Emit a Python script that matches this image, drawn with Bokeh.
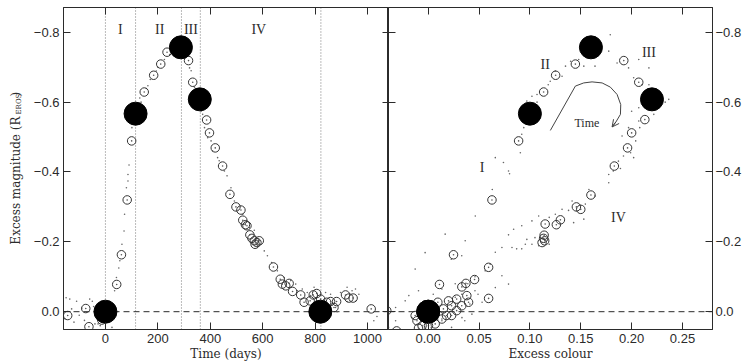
import math
from bokeh.plotting import figure
from bokeh.layouts import row
from bokeh.models import Range1d, LinearAxis, FixedTicker, Label, Span, Arrow, OpenHead
from bokeh.core.properties import value
from bokeh.embed import file_html
from bokeh.resources import INLINE

# ---------------- data ----------------
# left panel: time (days) vs excess magnitude
time_ticks = [0, 200, 400, 600, 800, 1000]
time_tick_labels = ["0", "200", "400", "600", "800", "1000"]
mag_ticks = [-0.8, -0.6, -0.4, -0.2, 0.0]
mag_tick_labels = ["\u22120.8", "\u22120.6", "\u22120.4", "\u22120.2", "0.0"]
col_ticks = [0.0, 0.05, 0.10, 0.15, 0.20, 0.25]
col_tick_labels = ["0.00", "0.05", "0.10", "0.15", "0.20", "0.25"]

phase_bounds = [0, 115, 290, 362, 822]
phase_names = ["I", "II", "III", "IV"]
phase_name_t = [57, 207, 326, 585]
phase_name_m = [-0.809, -0.809, -0.809, -0.809]

key_t = [0, 115, 288, 360, 820]
key_m = [0.0, -0.567, -0.757, -0.608, 0.0]
key_c = [0.0, 0.100, 0.160, 0.220, 0.0]

bin_t = [-144, -75, -63, -14, 43, 61, 83, 100, 148, 184, 211, 235, 317, 333, 386, 397,
         419, 447, 475, 498, 517, 524, 534, 540, 551, 559, 568, 571, 578, 587, 641, 667,
         675, 688, 701, 714, 745, 758, 781, 793, 806, 821, 844, 859, 872, 882, 916, 929,
         945, 1014]
bin_m = [0.011, -0.009, 0.043, 0.024, -0.078, -0.163, -0.32, -0.489, -0.629, -0.677,
         -0.709, -0.743, -0.719, -0.657, -0.549, -0.512, -0.469, -0.417, -0.336, -0.30,
         -0.291, -0.262, -0.249, -0.246, -0.22, -0.21, -0.203, -0.193, -0.198, -0.203,
         -0.128, -0.093, -0.079, -0.074, -0.081, -0.058, -0.048, -0.027, -0.031, -0.048,
         -0.052, -0.036, -0.027, -0.029, -0.012, -0.029, -0.048, -0.039, -0.039, -0.008]

raw_t = [-155, -136, -129, -120, -110, -100, -90, -80, -60, -45, -40, -28, -20, 10, 20, 25,
         -150, -50,
         35, 42, 51, 55, 63, 71, 73, 80, 86, 86, 90, 101, 106, 124, 131, 136, 156, 162, 171,
         194, 200, 225, 245, 251, 264,
         308, 321, 327, 340, 365, 371, 378, 390, 403, 409, 428, 434, 454, 464, 479, 492,
         524, 549, 568, 580, 606, 618, 634, 656, 682, 707, 726, 732, 751, 770, 783, 796,
         821, 840, 859, 866, 878, 884, 853, 897, 922, 941, 954, 967, 954, 922, 1024, 1036]
raw_m = [0.02, -0.036, -0.008, 0.03, -0.03, 0.01, -0.01, 0.025, -0.036, -0.015, 0.035,
         0.035, 0.04, 0.016, -0.02, 0.045, -0.04, -0.03,
         -0.06, -0.098, -0.125, -0.146, -0.193, -0.231, -0.279, -0.355, -0.374, -0.393,
         -0.42, -0.527, -0.536, -0.555, -0.612, -0.60, -0.639, -0.647, -0.665, -0.689,
         -0.70, -0.722, -0.736, -0.746, -0.755,
         -0.736, -0.698, -0.69, -0.643, -0.574, -0.565, -0.527, -0.498, -0.489, -0.46,
         -0.441, -0.432, -0.403, -0.389, -0.355, -0.317, -0.279, -0.241, -0.233, -0.189,
         -0.174, -0.16, -0.141, -0.117, -0.098, -0.089, -0.079, -0.06, -0.065, -0.055,
         -0.046, -0.07, -0.05, -0.055, -0.05, -0.022, -0.012, 0.0, 0.007, -0.055, -0.07,
         -0.06, -0.065, -0.05, -0.03, -0.029, 0.026, 0.014]

# right panel: excess colour vs excess magnitude
bin_c = [0.0889, 0.1135, 0.1253, 0.1447, 0.1923, 0.207, 0.213, 0.20, 0.196, 0.183,
         0.160, 0.1457, 0.150, 0.130, 0.126, 0.115, 0.114, 0.1135, 0.1145, 0.112,
         0.0627, 0.0249, 0.0594, 0.0456, 0.0111, 0.0371, 0.0331, 0.0594, -0.0407, -0.031,
         0.020, 0.028, 0.038, 0.0397, 0.0095, 0.015, 0.023, 0.028, 0.018, 0.0135,
         0.0069, -0.0128, -0.011, -0.006, 0.0003, -0.0095, 0.033, 0.023]
bin_cm = [-0.489, -0.629, -0.677, -0.709, -0.719, -0.657, -0.55, -0.512, -0.469, -0.417,
          -0.334, -0.30, -0.293, -0.263, -0.249, -0.251, -0.219, -0.21, -0.203, -0.198,
          -0.32, -0.163, -0.127, -0.092, -0.078, -0.081, -0.071, -0.038, -0.003, 0.055,
          -0.031, -0.036, -0.046, -0.027, -0.027, -0.008, -0.017, -0.003, 0.011, 0.021,
          0.035, 0.011, 0.026, 0.04, 0.04, 0.047, -0.017, 0.011]

raw_c = [0.066, 0.074, 0.079, 0.080, 0.0906, 0.092, 0.094, 0.0987, 0.097, 0.102, 0.107,
         0.107, 0.118, 0.120, 0.125, 0.1316, 0.135, 0.14, 0.148, 0.153, 0.164, 0.1775,
         0.179, 0.1857, 0.197, 0.207, 0.217, 0.202, 0.2103, 0.217, 0.2365, 0.233, 0.207,
         0.20, 0.2218, 0.207, 0.197, 0.208, 0.1906, 0.204, 0.199, 0.192, 0.202, 0.187,
         0.182, 0.1775, 0.189,
         0.0463, 0.0167, 0.0364, -0.003, 0.033, 0.0227, -0.0128, -0.019, -0.032, -0.041,
         0.063,
         0.0824, 0.087, 0.092, 0.0955, 0.097, 0.102, 0.105, 0.1086, 0.119, 0.102, 0.1086,
         0.119, 0.125, 0.1316, 0.138, 0.1415, 0.1545, 0.153, 0.143, 0.164, 0.158, 0.1775,
         0.092, 0.084, 0.079, 0.0725, 0.066, 0.061, 0.056, 0.0725, 0.079, 0.066, 0.046,
         0.049, 0.053, 0.041, 0.043, 0.036, 0.0332, 0.023, 0.0266, 0.033, 0.039, 0.046,
         0.0266, 0.0135, 0.005, -0.0095, -0.0226, -0.032, -0.016, -0.039, 0.003, 0.0135]
raw_cm = [-0.441, -0.427, -0.403, -0.395, -0.455, -0.508, -0.527, -0.536, -0.603, -0.617,
          -0.622, -0.60, -0.65, -0.66, -0.689, -0.674, -0.703, -0.717, -0.722, -0.703,
          -0.703, -0.746, -0.793, -0.712, -0.698, -0.722, -0.698, -0.67, -0.65, -0.65,
          -0.608, -0.60, -0.584, -0.574, -0.565, -0.546, -0.527, -0.527, -0.503, -0.489,
          -0.455, -0.446, -0.441, -0.431, -0.403, -0.393, -0.41,
          -0.274, -0.222, -0.203, -0.169, -0.16, -0.15, -0.122, -0.046, -0.012, 0.0,
          -0.35,
          -0.184, -0.18, -0.18, -0.193, -0.207, -0.193, -0.212, -0.189, -0.193, -0.26,
          -0.274, -0.27, -0.279, -0.293, -0.29, -0.317, -0.308, -0.265, -0.255, -0.331,
          -0.35, -0.369, -0.246, -0.236, -0.22, -0.184, -0.17, -0.136, -0.117, -0.103,
          -0.079, -0.069, -0.06, -0.05, -0.027, -0.022, 0.007, 0.026, 0.017, 0.045,
          -0.041, -0.05, -0.08, -0.1, -0.08, -0.065, -0.05, -0.06, -0.031, 0.026, 0.017,
          0.045, 0.045, 0.026]

loop_names = ["I", "II", "III", "IV"]
loop_name_c = [0.053, 0.115, 0.217, 0.187]
loop_name_m = [-0.412, -0.708, -0.741, -0.27]

arrow_c = [0.1201, 0.1447, 0.1529, 0.1611, 0.171, 0.1791, 0.1857, 0.1893, 0.189, 0.1847, 0.1808]
arrow_m = [-0.519, -0.646, -0.655, -0.658, -0.655, -0.643, -0.622, -0.593, -0.565, -0.544, -0.529]

# ---------------- styling ----------------
INK = "#2b2b2b"
TICK_FONT = "Liberation Sans"
LABEL_FONT = "DejaVu Serif"
ROMAN_FONT = "Liberation Serif"
H = 363
STRIP = 30
TOP = 7
BOTTOM = 34


def style_axis(ax, ticks, labels, show_labels=True, tick_in=7, tick_out=0, standoff=4):
    ax.ticker = FixedTicker(ticks=ticks)
    ax.major_label_overrides = {t: (l if show_labels else "") for t, l in zip(ticks, labels)}
    ax.major_tick_in = tick_in
    ax.major_tick_out = tick_out
    ax.minor_tick_line_color = None
    ax.axis_line_color = INK
    ax.major_tick_line_color = INK
    ax.major_label_text_font = TICK_FONT
    ax.major_label_text_font_size = "13px" if show_labels else "0px"
    ax.major_label_text_color = INK
    ax.major_label_standoff = standoff if show_labels else 0
    ax.axis_label_text_font = LABEL_FONT
    ax.axis_label_text_font_size = "12px"
    ax.axis_label_text_font_style = "normal"
    ax.axis_label_text_color = INK
    ax.axis_label_standoff = 1


def base_fig(width, x_range, y_axis_location, min_left, min_right):
    p = figure(width=width, height=H, x_range=x_range, y_range=Range1d(0.051, -0.871),
               y_axis_location=y_axis_location, output_backend="svg", toolbar_location=None,
               min_border_left=min_left, min_border_right=min_right,
               min_border_top=TOP, min_border_bottom=BOTTOM)
    p.xgrid.visible = False
    p.ygrid.visible = False
    p.outline_line_color = INK
    p.background_fill_color = "white"
    p.border_fill_color = "white"
    return p


# ---------------- y-axis title strip ----------------
ps = figure(width=STRIP, height=H, x_range=Range1d(0, STRIP), y_range=Range1d(0, H),
            x_axis_location=None, y_axis_location=None, output_backend="svg",
            toolbar_location=None, min_border_left=0, min_border_right=0,
            min_border_top=TOP, min_border_bottom=BOTTOM)
ps.xgrid.visible = False
ps.ygrid.visible = False
ps.outline_line_color = None
# screen units here are measured from the bottom of the (row-aligned) frame
lab_kw = dict(x_units="screen", y_units="screen", angle=math.pi / 2, text_color=INK,
              text_font=LABEL_FONT, text_baseline="middle")
ps.add_layout(Label(x=15, y=213, text="Excess magnitude (R", text_align="right",
                    text_font_size="12px", **lab_kw))
ps.add_layout(Label(x=18, y=215, text="EROS", text_align="left",
                    text_font_size="7px", **lab_kw))
ps.add_layout(Label(x=15, y=233, text=")", text_align="left",
                    text_font_size="12px", **lab_kw))

# ---------------- left panel ----------------
p1 = base_fig(388 - STRIP, Range1d(-160, 1080), "left", 62 - STRIP, 0)
style_axis(p1.xaxis[0], time_ticks, time_tick_labels)
p1.xaxis[0].axis_label = "Time (days)"
style_axis(p1.yaxis[0], mag_ticks, mag_tick_labels)
top1 = LinearAxis()
style_axis(top1, time_ticks, time_tick_labels, show_labels=False)
p1.add_layout(top1, "above")
right1 = LinearAxis()
style_axis(right1, mag_ticks, mag_tick_labels, show_labels=False, tick_in=6)
p1.add_layout(right1, "right")

for b in phase_bounds:
    p1.add_layout(Span(location=b, dimension="height", line_color="#777777",
                       line_dash="1 2", line_width=1, level="underlay"))
p1.add_layout(Span(location=0, dimension="width", line_color=INK, line_dash="6 4",
                   line_width=1, level="underlay"))

p1.scatter(raw_t, raw_m, size=1.6, color="#666666", line_width=0)
p1.scatter(bin_t, bin_m, size=8.5, fill_color=None, line_color="#333333", line_width=1)
p1.scatter(bin_t, bin_m, size=1.6, color="#555555", line_width=0)
p1.scatter(key_t, key_m, size=23, color="black")
p1.text(phase_name_t, phase_name_m, text=phase_names, text_font=value(ROMAN_FONT),
        text_font_size="14px", text_align="center", text_baseline="middle", text_color=INK)

# ---------------- right panel ----------------
p2 = base_fig(359, Range1d(-0.039, 0.2795), "right", 0, 35)
style_axis(p2.xaxis[0], col_ticks, col_tick_labels)
p2.xaxis[0].axis_label = "Excess colour"
style_axis(p2.yaxis[0], mag_ticks, mag_tick_labels, standoff=3)
top2 = LinearAxis()
style_axis(top2, col_ticks, col_tick_labels, show_labels=False)
p2.add_layout(top2, "above")
left2 = LinearAxis()
style_axis(left2, mag_ticks, mag_tick_labels, show_labels=False)
p2.add_layout(left2, "left")

p2.add_layout(Span(location=0, dimension="width", line_color=INK, line_dash="6 4",
                   line_width=1, level="underlay"))

p2.scatter(raw_c, raw_cm, size=1.6, color="#666666", line_width=0)
p2.scatter(bin_c, bin_cm, size=8.5, fill_color=None, line_color="#333333", line_width=1)
p2.scatter(bin_c, bin_cm, size=1.6, color="#555555", line_width=0)
p2.scatter(key_c, key_m, size=23, color="black")
p2.text(loop_name_c, loop_name_m, text=loop_names, text_font=value(ROMAN_FONT),
        text_font_size="14px", text_align="center", text_baseline="middle", text_color=INK)
p2.text([0.156], [-0.541], text=["Time"], text_font=value(ROMAN_FONT),
        text_font_size="12px", text_align="center", text_baseline="middle", text_color=INK)
p2.line(arrow_c, arrow_m, line_color="#444444", line_width=1)
p2.add_layout(Arrow(end=OpenHead(size=7, line_color="#444444", line_width=1),
                    x_start=arrow_c[-2], y_start=arrow_m[-2],
                    x_end=arrow_c[-1], y_end=arrow_m[-1],
                    line_color="#444444", line_width=1))

layout = row(ps, p1, p2)
open("out.html", "w").write(file_html(layout, INLINE))
